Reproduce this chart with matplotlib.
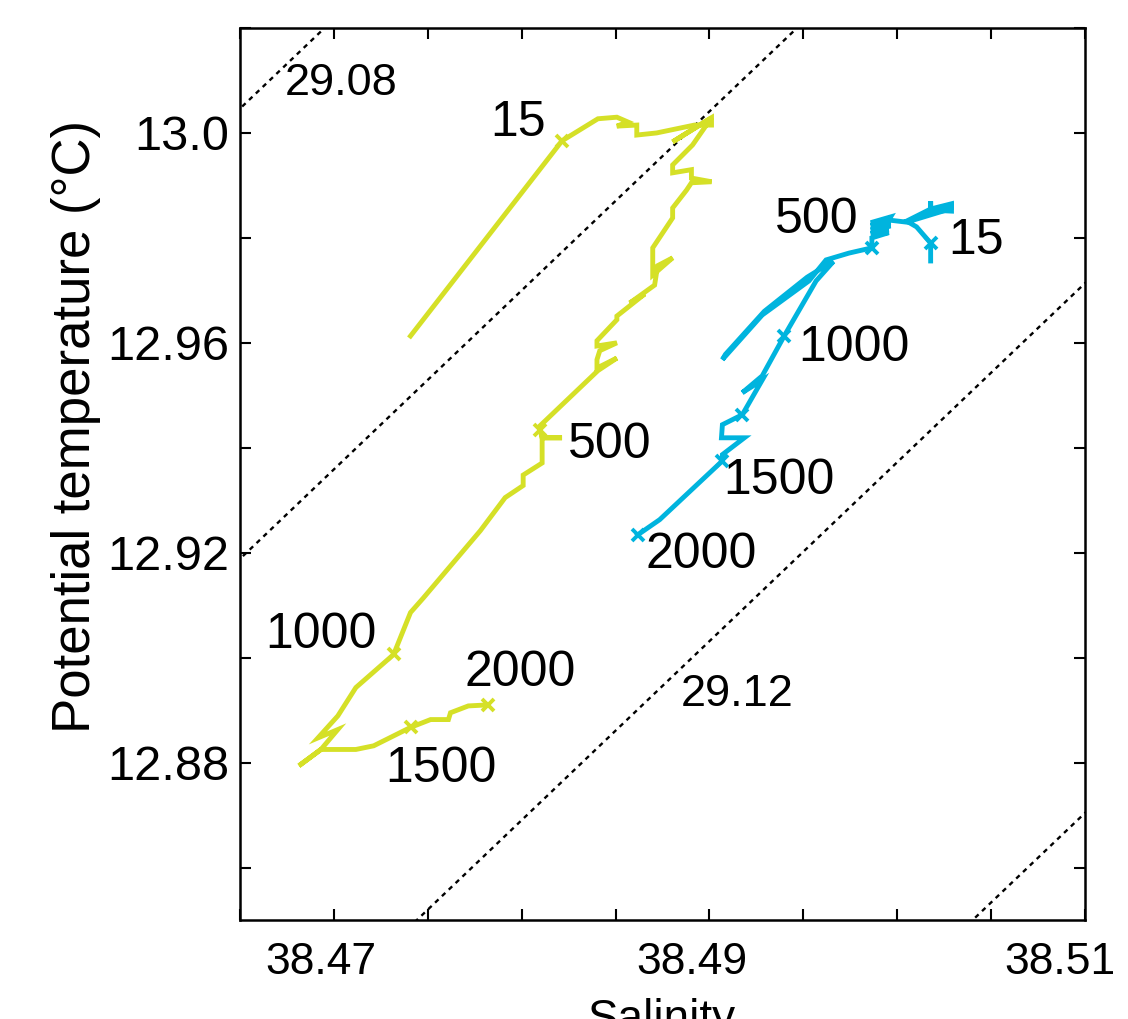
import numpy as np
import matplotlib
matplotlib.use("Agg")
import matplotlib.pyplot as plt
from matplotlib.ticker import FixedLocator, FixedFormatter, MultipleLocator
from matplotlib.transforms import ScaledTranslation

plt.rcParams['font.family'] = ['Liberation Sans', 'DejaVu Sans']

# ---- data (salinity, potential temperature) ----
yellow_S = [38.47408, 38.48215, 38.48406, 38.48507, 38.48565, 38.48507, 38.48613,
            38.48613, 38.48719, 38.48920, 38.49011, 38.49011, 38.48804, 38.49011,
            38.48910, 38.48804, 38.48804, 38.48904, 38.48904, 38.49011, 38.48904,
            38.48878, 38.48804, 38.48804, 38.48698, 38.48698, 38.48804, 38.48724,
            38.48708, 38.48576, 38.48655, 38.48507, 38.48507, 38.48401, 38.48401,
            38.48507, 38.48416, 38.48401, 38.48401, 38.48507, 38.48406, 38.48098,
            38.48098, 38.48109, 38.48215, 38.48109, 38.48109, 38.48008, 38.48008,
            38.47912, 38.47780, 38.47477, 38.47408, 38.47318, 38.47117, 38.47021,
            38.46915, 38.47021, 38.46931, 38.46814, 38.46931, 38.47117, 38.47212,
            38.47408, 38.47515, 38.47610, 38.47621, 38.47716, 38.47822]
yellow_T = [12.9613, 12.9985, 13.0027, 13.0030, 13.0021, 13.0013, 13.0015,
            12.9996, 13.0000, 13.0015, 13.0015, 13.0029, 12.9983, 13.0029,
            12.9977, 12.9939, 12.9924, 12.9930, 12.9914, 12.9907, 12.9905,
            12.9891, 12.9857, 12.9838, 12.9781, 12.9729, 12.9762, 12.9747,
            12.9710, 12.9676, 12.9693, 12.9651, 12.9644, 12.9604, 12.9594,
            12.9600, 12.9585, 12.9568, 12.9552, 12.9571, 12.9547, 12.9442,
            12.9434, 12.9419, 12.9419, 12.9419, 12.9371, 12.9348, 12.9328,
            12.9305, 12.9242, 12.9114, 12.9086, 12.9006, 12.8943, 12.8889,
            12.8847, 12.8863, 12.8825, 12.8794, 12.8825, 12.8825, 12.8832,
            12.8867, 12.8882, 12.8882, 12.8895, 12.8908, 12.8910]
yellow_marks = [1, 42, 53, 63, 68]
yellow_depth_labels = ["15", "500", "1000", "1500", "2000"]
yellow_label_S = [38.47981, 38.48469, 38.46931, 38.47568, 38.47992]
yellow_label_T = [13.0019, 12.9406, 12.9044, 12.8787, 12.8971]

cyan_S = [38.50178, 38.50178, 38.50103, 38.50050, 38.50178, 38.50289, 38.50289,
          38.50178, 38.50289, 38.50289, 38.50178, 38.50178, 38.50178, 38.50289,
          38.50050, 38.49955, 38.49965, 38.49859, 38.49965, 38.49859, 38.49965,
          38.49859, 38.49955, 38.49859, 38.49955, 38.49865, 38.49865, 38.49743,
          38.49621, 38.49530, 38.49281, 38.49069, 38.49085, 38.49292, 38.49520,
          38.49610, 38.49660, 38.49568, 38.49398, 38.49281, 38.49175, 38.49281,
          38.49175, 38.49069, 38.49064, 38.49186, 38.49069, 38.49069, 38.48735,
          38.48618]
cyan_T = [12.9756, 12.9790, 12.9821, 12.9832, 12.9855, 12.9865, 12.9851,
          12.9853, 12.9858, 12.9862, 12.9851, 12.9870, 12.9851, 12.9856,
          12.9830, 12.9834, 12.9840, 12.9829, 12.9830, 12.9823, 12.9823,
          12.9815, 12.9815, 12.9808, 12.9810, 12.9800, 12.9781, 12.9771,
          12.9758, 12.9718, 12.9653, 12.9568, 12.9578, 12.9660, 12.9725,
          12.9745, 12.9755, 12.9718, 12.9613, 12.9537, 12.9505, 12.9529,
          12.9463, 12.9444, 12.9419, 12.9419, 12.9387, 12.9375, 12.9263,
          12.9234]
cyan_marks = [1, 26, 38, 42, 47, 49]
cyan_depth_labels = ["15", "500", "1000", "1500", "2000"]
cyan_label_S = [38.50422, 38.49573, 38.49769, 38.49371, 38.48958]
cyan_label_T = [12.9794, 12.9834, 12.9590, 12.9337, 12.9196]

# isopycnals (sigma-theta) from a linearised equation of state
sigma_levels = [29.083, 29.10, 29.12, 29.14]
sigma_label_text = ["29.08", "29.12"]
sigma_label_S = [38.47037, 38.49149]
sigma_label_T = [13.0095, 12.8929]
eos_sigma0, eos_beta, eos_alpha = 29.11666, 0.6757, 0.1981
eos_Sref, eos_Tref = 38.49, 12.92

x_ticks_major = [38.47, 38.49, 38.51]
x_tick_labels = ["38.47", "38.49", "38.51"]
y_ticks_major = [12.88, 12.92, 12.96, 13.0]
y_tick_labels = ["12.88", "12.92", "12.96", "13.0"]

YELLOW = '#d5e027'
CYAN = '#00b4de'

fig = plt.figure(figsize=(11.28, 10.19), dpi=100)
ax = fig.add_axes([240/1128, 99/1019, 845/1128, 892/1019])

# isopycnal contours
Sg = np.linspace(38.46, 38.515, 200)
Tg = np.linspace(12.84, 13.03, 200)
SS, TT = np.meshgrid(Sg, Tg)
sig = eos_sigma0 + eos_beta*(SS - eos_Sref) - eos_alpha*(TT - eos_Tref)
ax.contour(SS, TT, sig, levels=sigma_levels, colors='black',
           linewidths=1.7, linestyles=[(0, (2.0, 2.0))], zorder=1)
for txt, s, t in zip(sigma_label_text, sigma_label_S, sigma_label_T):
    ax.text(s, t, txt, fontsize=32.5, ha='center', va='center', zorder=4)

# profiles
ax.plot(yellow_S, yellow_T, color=YELLOW, lw=3.5, solid_joinstyle='miter',
        zorder=2)
ax.plot([yellow_S[i] for i in yellow_marks], [yellow_T[i] for i in yellow_marks],
        ls='none', marker='x', ms=9, mew=2.8, color=YELLOW, zorder=3)
ax.plot(cyan_S, cyan_T, color=CYAN, lw=3.5, solid_joinstyle='miter', zorder=2)
ax.plot([cyan_S[i] for i in cyan_marks], [cyan_T[i] for i in cyan_marks],
        ls='none', marker='x', ms=9, mew=2.8, color=CYAN, zorder=3)

for txt, s, t in zip(yellow_depth_labels, yellow_label_S, yellow_label_T):
    ax.text(s, t, txt, fontsize=36, ha='center', va='center', zorder=4)
for txt, s, t in zip(cyan_depth_labels, cyan_label_S, cyan_label_T):
    ax.text(s, t, txt, fontsize=36, ha='center', va='center', zorder=4)

ax.set_xlim(38.465, 38.51)
ax.set_ylim(12.85, 13.02)

ax.xaxis.set_major_locator(FixedLocator(x_ticks_major))
ax.xaxis.set_major_formatter(FixedFormatter(x_tick_labels))
ax.xaxis.set_minor_locator(MultipleLocator(0.005))
ax.yaxis.set_major_locator(FixedLocator(y_ticks_major))
ax.yaxis.set_major_formatter(FixedFormatter(y_tick_labels))
ax.yaxis.set_minor_locator(MultipleLocator(0.02))

ax.tick_params(which='both', direction='in', top=True, right=True,
               length=8, width=1.5)
ax.tick_params(axis='x', pad=16, labelsize=32)
ax.tick_params(axis='y', pad=8, labelsize=35)
# shift the salinity tick labels a little to the left, as in the original
x_shift_px = [-13, -18, -25]
for lab, dx in zip(ax.get_xticklabels(), x_shift_px):
    lab.set_transform(lab.get_transform() +
                      ScaledTranslation(dx/100, 0, fig.dpi_scale_trans))
for sp in ax.spines.values():
    sp.set_linewidth(1.8)

ax.set_xlabel('Salinity', fontsize=33)
ax.xaxis.set_label_coords(0.5, -0.087)
ax.xaxis.label.set_va('top')
ax.set_ylabel('Potential temperature (°C)', fontsize=38)
ax.yaxis.set_label_coords(-0.165, 0.553)

fig.savefig('out.png', dpi=100)
